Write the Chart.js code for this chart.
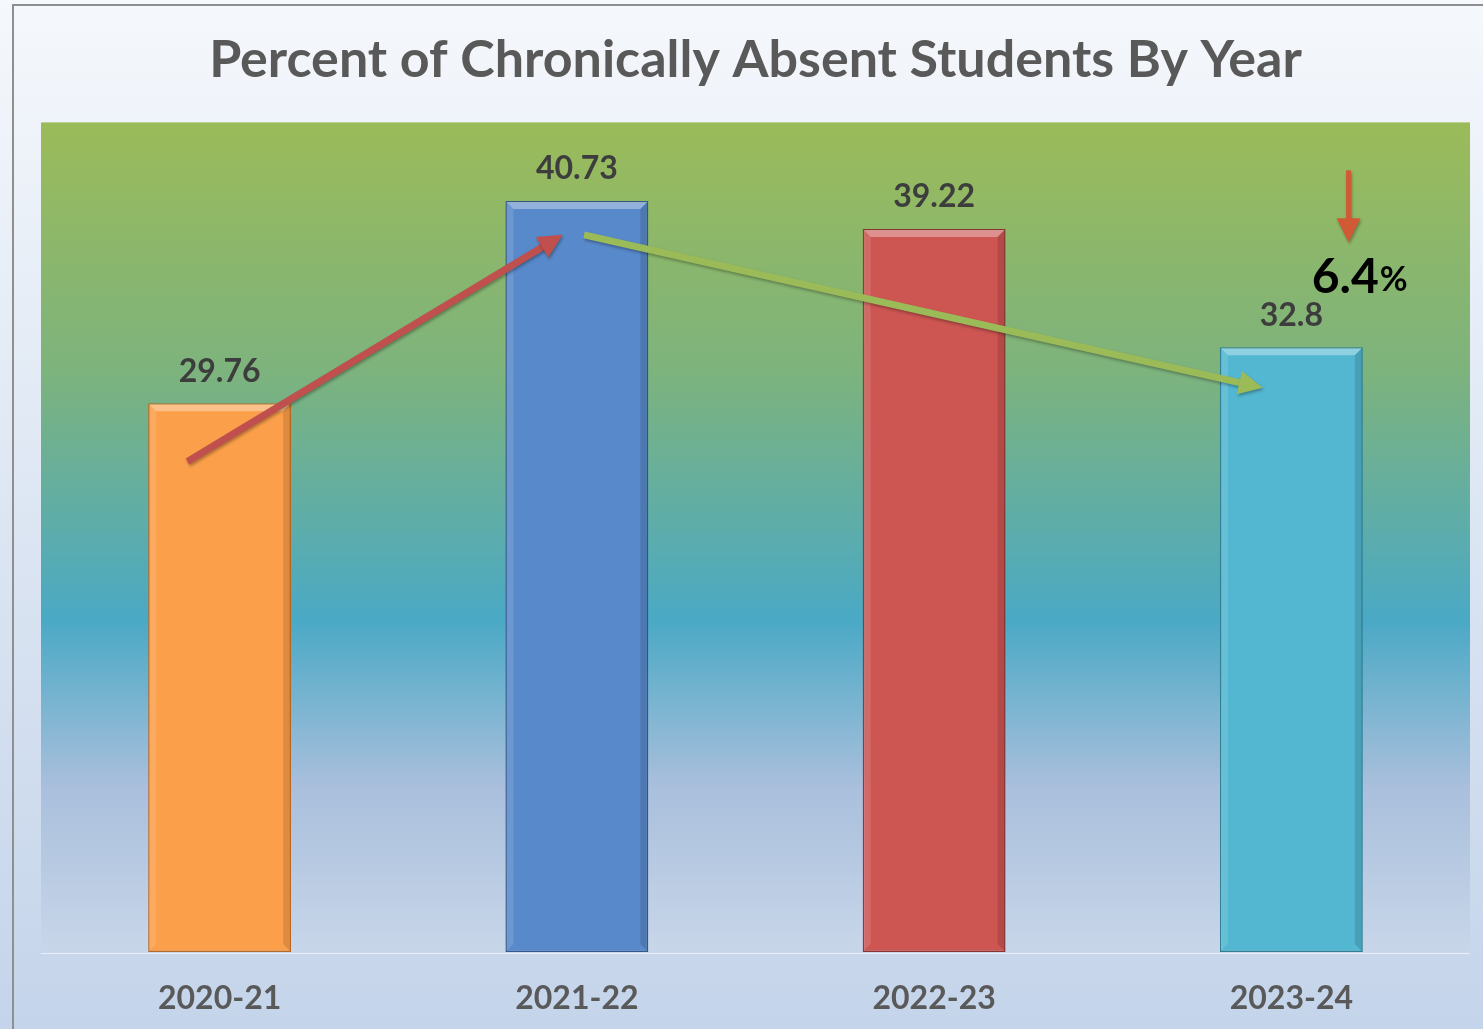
<!DOCTYPE html>
<html>
<head>
<meta charset="utf-8">
<script src="https://cdn.jsdelivr.net/npm/chart.js@4.4.1/dist/chart.umd.min.js"></script>
<style>
 html,body{margin:0;padding:0;}
 body{width:1483px;height:1029px;overflow:hidden;background:linear-gradient(#f5f8fc,#c4d4ea);}
 #wrap{position:absolute;left:12px;top:4px;width:1471px;height:1025px;border-left:2px solid #8f8f8f;border-top:2px solid #8f8f8f;box-sizing:border-box;}
 #c{position:absolute;left:0;top:0;}
</style>
</head>
<body>
<div id="wrap"></div>
<canvas id="c" width="1483" height="1029"></canvas>
<script>
// Data
var years = ["2020-21", "2021-22", "2022-23", "2023-24"];
var percents = [29.76, 40.73, 39.22, 32.8];
var barColors = ["#fb9f4a", "#5889cb", "#cd5552", "#53b7d1"];
var edgeColors = ["#b96a25", "#34598f", "#8e3230", "#2f7f96"];
var yMax = 45;

// arrows: [fromIndex, fromValue, toIndex, toValue, colour]
var arrows = [
 [-0.09, 26.6, 0.96, 38.9, "#c0504d"],
 [1.02, 38.9, 2.92, 30.6, "#9bbb59"],
 [3.16, 42.4, 3.16, 38.5, "#d05a36"]
];
var changeLabel = "6.4";

// Plot area gradient
var plotBg = {
 id: 'plotBg',
 beforeDraw: function(chart){
  var a = chart.chartArea, ctx = chart.ctx;
  var g = ctx.createLinearGradient(0, a.top, 0, a.bottom);
  g.addColorStop(0, "#9bbb59");
  g.addColorStop(0.3, "#7db37d");
  g.addColorStop(0.6, "#4aa9c5");
  g.addColorStop(0.8, "#a9bfdc");
  g.addColorStop(1, "#c8d6e9");
  ctx.save();
  ctx.fillStyle = g;
  ctx.fillRect(a.left, a.top, a.right - a.left, a.bottom - a.top);
  ctx.strokeStyle = "rgba(255,255,255,0.6)";
  ctx.lineWidth = 1;
  ctx.beginPath();
  ctx.moveTo(a.left, a.bottom + 1.5);
  ctx.lineTo(a.right, a.bottom + 1.5);
  ctx.stroke();
  ctx.restore();
 }
};

function arrow(ctx, x1, y1, x2, y2, col, w, head){
 var ang = Math.atan2(y2 - y1, x2 - x1);
 ctx.save();
 ctx.strokeStyle = col; ctx.fillStyle = col;
 ctx.lineWidth = w;
 ctx.shadowColor = "rgba(0,0,0,0.3)";
 ctx.shadowBlur = 3; ctx.shadowOffsetX = 1; ctx.shadowOffsetY = 2;
 ctx.beginPath();
 ctx.moveTo(x1, y1);
 ctx.lineTo(x2 - Math.cos(ang) * head * 0.8, y2 - Math.sin(ang) * head * 0.8);
 ctx.stroke();
 ctx.beginPath();
 ctx.moveTo(x2, y2);
 ctx.lineTo(x2 - head * Math.cos(ang) + head * 0.5 * Math.sin(ang), y2 - head * Math.sin(ang) - head * 0.5 * Math.cos(ang));
 ctx.lineTo(x2 - head * Math.cos(ang) - head * 0.5 * Math.sin(ang), y2 - head * Math.sin(ang) + head * 0.5 * Math.cos(ang));
 ctx.closePath();
 ctx.fill();
 ctx.restore();
}

// bevels, value labels, arrows
var extras = {
 id: 'extras',
 afterDatasetsDraw: function(chart){
  var ctx = chart.ctx, xs = chart.scales.x, ys = chart.scales.y;
  var meta = chart.getDatasetMeta(0);
  meta.data.forEach(function(bar, i){
   var l = bar.x - bar.width / 2, r = bar.x + bar.width / 2, t = bar.y, b = bar.base;
   var bv = 8;
   ctx.save();
   ctx.fillStyle = "rgba(255,255,255,0.35)";
   ctx.beginPath();
   ctx.moveTo(l + 1, t + 1); ctx.lineTo(r - 1, t + 1); ctx.lineTo(r - bv, t + bv); ctx.lineTo(l + bv, t + bv);
   ctx.closePath(); ctx.fill();
   ctx.fillStyle = "rgba(255,255,255,0.12)";
   ctx.beginPath();
   ctx.moveTo(l + 1, t + 1); ctx.lineTo(l + bv, t + bv); ctx.lineTo(l + bv, b - bv); ctx.lineTo(l + 1, b - 1);
   ctx.closePath(); ctx.fill();
   ctx.fillStyle = "rgba(0,0,0,0.12)";
   ctx.beginPath();
   ctx.moveTo(r - 1, t + 1); ctx.lineTo(r - bv, t + bv); ctx.lineTo(r - bv, b - bv); ctx.lineTo(r - 1, b - 1);
   ctx.closePath(); ctx.fill();
   ctx.fillStyle = "#3d3d3d";
   ctx.font = "bold 32px Lato";
   ctx.textAlign = "center";
   ctx.textBaseline = "middle";
   ctx.fillText(String(percents[i]), bar.x, t - 32);
   ctx.restore();
  });
  arrows.forEach(function(a, k){
   arrow(ctx, xs.getPixelForValue(a[0]), ys.getPixelForValue(a[1]),
    xs.getPixelForValue(a[2]), ys.getPixelForValue(a[3]), a[4], k < 2 ? 7 : 5, 24);
  });
  // change label
  var cx = xs.getPixelForValue(3.19), cy = ys.getPixelForValue(36.6);
  ctx.save();
  ctx.fillStyle = "#000";
  ctx.textBaseline = "middle";
  ctx.font = "bold 48px Lato";
  var w1 = ctx.measureText(changeLabel).width;
  ctx.font = "bold 34px Lato";
  var w2 = ctx.measureText("%").width;
  var x0 = cx - (w1 + w2) / 2;
  ctx.font = "bold 48px Lato";
  ctx.textAlign = "left";
  ctx.fillText(changeLabel, x0, cy);
  ctx.font = "bold 34px Lato";
  ctx.fillText("%", x0 + w1 + 1, cy + 3);
  ctx.restore();
 }
};

new Chart(document.getElementById('c'), {
 type: 'bar',
 data: {
  labels: years,
  datasets: [{
   data: percents,
   backgroundColor: barColors,
   borderColor: edgeColors,
   borderWidth: 1.5,
   borderSkipped: false,
   categoryPercentage: 1,
   barPercentage: 0.4
  }]
 },
 options: {
  responsive: false,
  animation: false,
  layout: { padding: { left: 41, right: 13, top: 16, bottom: 15 } },
  plugins: {
   legend: { display: false },
   tooltip: { enabled: false },
   title: {
    display: true,
    text: "Percent of Chronically Absent Students By Year",
    color: "#595959",
    font: { family: "Lato", size: 52, weight: "bold" },
    padding: { top: 13, bottom: 31 }
   }
  },
  scales: {
   x: {
    grid: { display: false, drawTicks: false },
    border: { display: false },
    ticks: { color: "#595959", font: { family: "Lato", size: 32, weight: "bold" }, padding: 27 },
    afterFit: function(s){ s.height = 62; }
   },
   y: {
    display: false,
    min: 0,
    max: yMax
   }
  }
 },
 plugins: [plotBg, extras]
});
</script>
</body>
</html>
